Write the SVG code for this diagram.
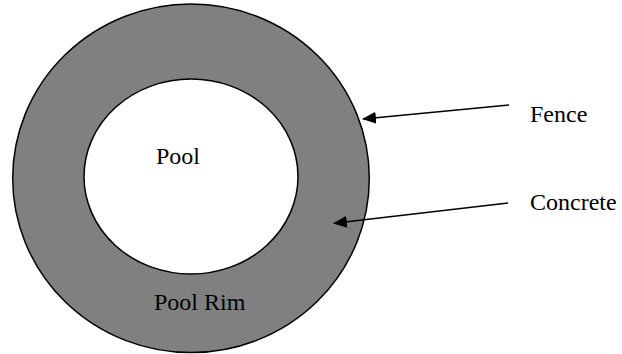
<svg xmlns="http://www.w3.org/2000/svg" width="622" height="354" viewBox="0 0 622 354">
  <style>
    .ring { fill: #808080; stroke: #000; stroke-width: 1.5; }
    .pool { fill: #fff; stroke: #000; stroke-width: 1.5; }
    .lbl { font-family: "Liberation Serif", "Times New Roman", serif; font-size: 24px; fill: #000; }
    .arrow { stroke: #000; stroke-width: 1.5; fill: none; marker-end: url(#head); }
  </style>
  <defs>
    <marker id="head" markerWidth="14" markerHeight="12" refX="13" refY="6" orient="auto" markerUnits="userSpaceOnUse">
      <path d="M0,0 L14,6 L0,12 Z" fill="#000"/>
    </marker>
  </defs>
  <rect width="622" height="354" fill="#fff"/>

  <!-- outer ring: concrete with fence on its edge -->
  <g id="rim">
    <ellipse class="ring" cx="191" cy="178.3" rx="178.3" ry="174.3"/>
    <text class="lbl" x="154" y="310">Pool Rim</text>
  </g>

  <!-- water area -->
  <g id="pool">
    <ellipse class="pool" cx="191" cy="176.5" rx="107" ry="97.5"/>
    <text class="lbl" x="156" y="164">Pool</text>
  </g>

  <g id="fence-label">
    <text class="lbl" x="530" y="122">Fence</text>
  </g>
  <g id="concrete-label">
    <text class="lbl" x="530" y="210">Concrete</text>
  </g>

  <g id="connectors">
    <line class="arrow" x1="509" y1="105" x2="363" y2="119"/>
    <line class="arrow" x1="508" y1="203" x2="334" y2="223.3"/>
  </g>
</svg>
